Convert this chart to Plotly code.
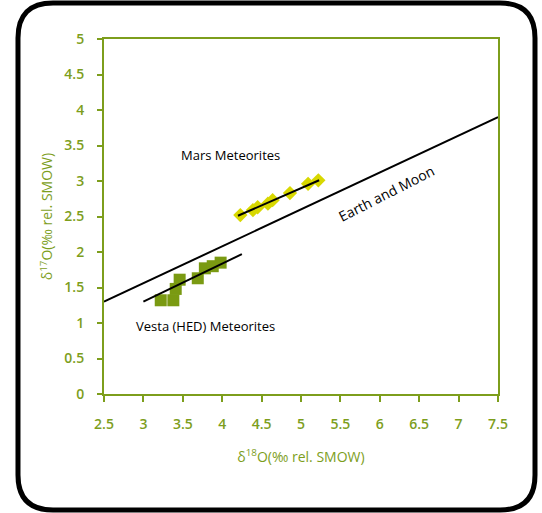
import plotly.graph_objects as go

# Mars meteorites (diamonds)
mars_d18 = [4.23, 4.39, 4.45, 4.58, 4.64, 4.86, 5.09, 5.22]
mars_d17 = [2.52, 2.59, 2.63, 2.68, 2.73, 2.83, 2.96, 3.01]

# Vesta (HED) meteorites (squares)
vesta_d18 = [3.22, 3.38, 3.41, 3.46, 3.69, 3.78, 3.88, 3.98]
vesta_d17 = [1.32, 1.32, 1.48, 1.61, 1.63, 1.77, 1.80, 1.85]

# fractionation lines
earth_x = [2.5, 7.5]
earth_y = [1.30, 3.90]
vesta_lx = [3.0, 4.25]
vesta_ly = [1.30, 1.97]
mars_lx = [4.2, 5.23]
mars_ly = [2.51, 3.01]

x_ticks = [2.5, 3, 3.5, 4, 4.5, 5, 5.5, 6, 6.5, 7, 7.5]
y_ticks = [0, 0.5, 1, 1.5, 2, 2.5, 3, 3.5, 4, 4.5, 5]

GREEN = "#7d9e1c"
FONT = "Open Sans"

fig = go.Figure()
fig.add_trace(go.Scatter(x=vesta_d18, y=vesta_d17, mode="markers",
                         marker=dict(symbol="square", size=12, color="#7a9a12"),
                         showlegend=False))
fig.add_trace(go.Scatter(x=mars_d18, y=mars_d17, mode="markers",
                         marker=dict(symbol="diamond", size=11, color="#d8d800"),
                         showlegend=False))
for lx, ly in [(earth_x, earth_y), (vesta_lx, vesta_ly), (mars_lx, mars_ly)]:
    fig.add_trace(go.Scatter(x=lx, y=ly, mode="lines",
                             line=dict(color="black", width=2),
                             showlegend=False))

# rounded frame round the whole picture, in paper units
L, T, W, H = 104, 39, 394, 355
def px(x, y):
    return (x - L) / W, (T + H - y) / H
x0, x1, y0, y1, r = 18, 535, 3, 510, 35
pts = [px(x0 + r, y0), px(x1 - r, y0), px(x1, y0), px(x1, y0 + r), px(x1, y1 - r),
       px(x1, y1), px(x1 - r, y1), px(x0 + r, y1), px(x0, y1), px(x0, y1 - r),
       px(x0, y0 + r), px(x0, y0)]
p = ["M %.4f,%.4f" % pts[0], "L %.4f,%.4f" % pts[1],
     "Q %.4f,%.4f %.4f,%.4f" % (*pts[2], *pts[3]), "L %.4f,%.4f" % pts[4],
     "Q %.4f,%.4f %.4f,%.4f" % (*pts[5], *pts[6]), "L %.4f,%.4f" % pts[7],
     "Q %.4f,%.4f %.4f,%.4f" % (*pts[8], *pts[9]), "L %.4f,%.4f" % pts[10],
     "Q %.4f,%.4f %.4f,%.4f" % (*pts[11], *pts[0]), "Z"]
fig.add_shape(type="path", xref="paper", yref="paper", path=" ".join(p),
              line=dict(color="black", width=5), layer="above")

fig.add_annotation(x=4.10, y=3.37, text="Mars Meteorites", showarrow=False,
                   font=dict(family=FONT, size=13, color="black"))
fig.add_annotation(x=3.79, y=0.96, text="Vesta (HED) Meteorites", showarrow=False,
                   font=dict(family=FONT, size=13, color="black"))
fig.add_annotation(x=6.08, y=2.82, text="Earth and Moon", showarrow=False, textangle=-27,
                   font=dict(family=FONT, size=14, color="black"))

axis_common = dict(showgrid=False, zeroline=False, showline=True, linecolor=GREEN,
                   linewidth=2, mirror=True, ticks="outside", tickcolor=GREEN,
                   tickwidth=2, tickfont=dict(family=FONT, size=14, color=GREEN, weight=600))

fig.update_layout(
    width=542, height=513,
    margin=dict(l=L, r=542 - L - W, t=T, b=513 - T - H),
    plot_bgcolor="white", paper_bgcolor="white",
    xaxis=dict(range=[2.5, 7.5], tickvals=x_ticks, ticklen=6, ticklabelstandoff=10,
               title=dict(text="δ<sup>18</sup>O(‰ rel. SMOW)", standoff=20,
                          font=dict(family=FONT, size=14, color=GREEN)),
               **axis_common),
    yaxis=dict(range=[0, 5], tickvals=y_ticks, ticklen=5, ticklabelstandoff=10,
               title=dict(text="δ<sup>17</sup>O(‰ rel. SMOW)", standoff=8,
                          font=dict(family=FONT, size=14, color=GREEN)),
               **axis_common),
)

fig.write_html("out.html", config={"displayModeBar": False},
               post_script="document.body.style.margin='0';")
